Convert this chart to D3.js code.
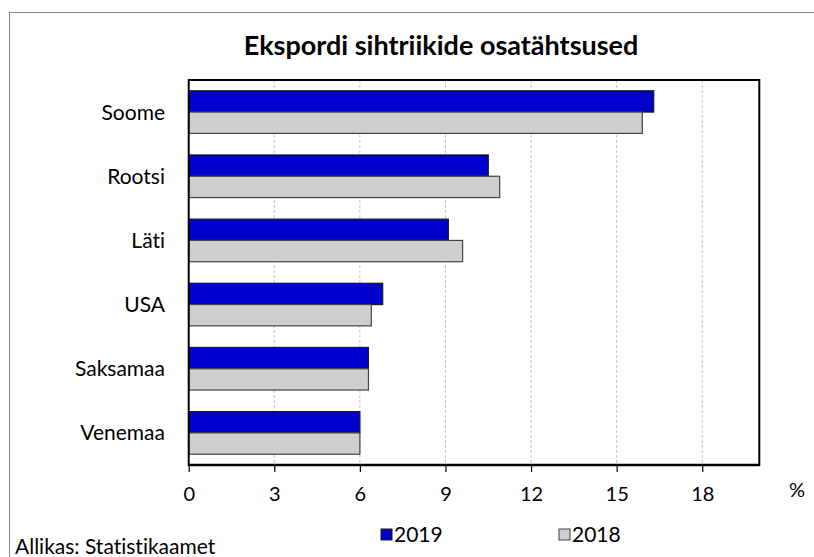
<!DOCTYPE html>
<html>
<head>
<meta charset="utf-8">
<script src="https://cdn.jsdelivr.net/npm/d3@7"></script>
<style>
  body { margin: 0; background: #fff; }
  text { font-family: Lato, "Open Sans", sans-serif; fill: #000; font-variant-ligatures: none; }
</style>
</head>
<body>
<script>
// data
var countries = ["Soome", "Rootsi", "Läti", "USA", "Saksamaa", "Venemaa"];
var years = ["2019", "2018"];
var values2019 = [16.3, 10.5, 9.1, 6.8, 6.3, 6.0];
var values2018 = [15.9, 10.9, 9.6, 6.4, 6.3, 6.0];
var xTicks = [0, 3, 6, 9, 12, 15, 18];

var colors = { "2019": "#0000cc", "2018": "#d0cece" };
var strokes = { "2019": "#1a1a1a", "2018": "#444" };

var width = 814, height = 557;

var plot = { left: 188.7, right: 759.3, top: 80, bottom: 465 };

var svg = d3.select("body").append("svg")
    .attr("width", width)
    .attr("height", height);

// outer frame of the chart area
svg.append("rect")
    .attr("x", 9.5).attr("y", 12.5)
    .attr("width", 900).attr("height", 700)
    .attr("fill", "none")
    .attr("stroke", "#8a8a8a")
    .attr("stroke-width", 1);

svg.append("text")
    .attr("x", 441).attr("y", 55)
    .attr("text-anchor", "middle")
    .attr("font-size", 27)
    .attr("font-weight", "bold")
    .text("Ekspordi sihtriikide osatähtsused");

var x = d3.scaleLinear().domain([0, 20]).range([plot.left, plot.right]);

var y = d3.scaleBand()
    .domain(countries)
    .range([plot.top, plot.bottom])
    .paddingInner(0.336)
    .paddingOuter(0.168);

var ySub = d3.scaleBand().domain(years).range([0, y.bandwidth()]);

// gridlines
svg.append("g")
    .selectAll("line")
    .data(xTicks.filter(function (d) { return d > 0; }))
    .enter().append("line")
    .attr("x1", function (d) { return x(d); })
    .attr("x2", function (d) { return x(d); })
    .attr("y1", plot.top)
    .attr("y2", plot.bottom)
    .attr("stroke", "#c4c4c4")
    .attr("stroke-dasharray", "3,2");

var rows = countries.map(function (c, i) {
    return { country: c, "2019": values2019[i], "2018": values2018[i] };
});

var group = svg.append("g")
    .selectAll("g")
    .data(rows)
    .enter().append("g")
    .attr("transform", function (d) { return "translate(0," + y(d.country) + ")"; });

group.selectAll("rect")
    .data(function (d) { return years.map(function (k) { return { key: k, value: d[k] }; }); })
    .enter().append("rect")
    .attr("x", x(0))
    .attr("y", function (d) { return ySub(d.key); })
    .attr("width", function (d) { return x(d.value) - x(0); })
    .attr("height", ySub.bandwidth())
    .attr("fill", function (d) { return colors[d.key]; })
    .attr("stroke", function (d) { return strokes[d.key]; })
    .attr("stroke-width", 1.2);

// plot frame
svg.append("rect")
    .attr("x", plot.left).attr("y", plot.top)
    .attr("width", plot.right - plot.left)
    .attr("height", plot.bottom - plot.top)
    .attr("fill", "none")
    .attr("stroke", "#000")
    .attr("stroke-width", 2);

// x axis
var xAxis = svg.append("g")
    .attr("transform", "translate(0," + plot.bottom + ")")
    .call(d3.axisBottom(x).tickValues(xTicks).tickSize(7).tickPadding(15));

xAxis.select(".domain")
    .attr("stroke-width", 2.5)
    .attr("d", "M" + plot.left + ",0H" + plot.right);
xAxis.selectAll(".tick line").attr("stroke", "#000").attr("stroke-width", 1.2);
xAxis.selectAll(".tick text")
    .attr("font-size", 20)
    .attr("font-family", "Lato, sans-serif");

svg.append("text")
    .attr("x", 797).attr("y", 497)
    .attr("text-anchor", "middle")
    .attr("font-size", 20)
    .text("%");

// y labels
svg.append("g")
    .selectAll("text")
    .data(countries)
    .enter().append("text")
    .attr("x", 165)
    .attr("y", function (d) { return y(d) + y.bandwidth() / 2; })
    .attr("dy", "0.36em")
    .attr("text-anchor", "end")
    .attr("font-size", 21)
    .text(function (d) { return d; });

// legend
var legendX = { "2019": 381, "2018": 559 };
var legend = svg.append("g")
    .selectAll("g")
    .data(years)
    .enter().append("g")
    .attr("transform", function (d) { return "translate(" + legendX[d] + ",529)"; });

legend.append("rect")
    .attr("width", 11).attr("height", 11)
    .attr("fill", function (d) { return colors[d]; })
    .attr("stroke", function (d) { return strokes[d]; });

legend.append("text")
    .attr("x", 13).attr("y", 5.5)
    .attr("dy", "0.36em")
    .attr("font-size", 21)
    .text(function (d) { return d; });

svg.append("text")
    .attr("x", 15).attr("y", 554)
    .attr("font-size", 21)
    .text("Allikas: Statistikaamet");
</script>
</body>
</html>
